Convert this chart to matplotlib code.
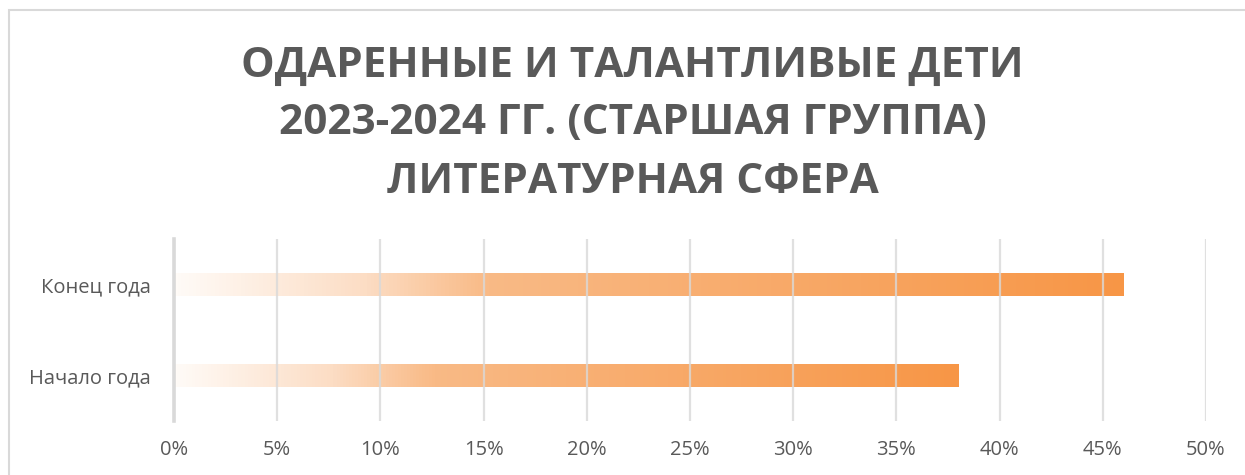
import numpy as np
import matplotlib
matplotlib.use("Agg")
import matplotlib.pyplot as plt
from matplotlib.colors import LinearSegmentedColormap
from matplotlib.patches import Rectangle
from matplotlib.ticker import PercentFormatter

# Data
categories = ["Начало года", "Конец года"]
values = [38, 46]
x_ticks = [0, 5, 10, 15, 20, 25, 30, 35, 40, 45, 50]
title_lines = ["ОДАРЕННЫЕ И ТАЛАНТЛИВЫЕ ДЕТИ",
               "2023-2024 ГГ. (СТАРШАЯ ГРУППА)",
               "ЛИТЕРАТУРНАЯ СФЕРА"]

plt.rcParams['font.family'] = ['Open Sans', 'DejaVu Sans']
text_col = '#595959'
grid_col = '#D9D9D9'

# white -> orange gradient, like the Excel fill
grad = LinearSegmentedColormap.from_list('orange_grad', [
    (0.0, '#FFFBF7'), (0.2, '#FCDDC4'), (0.33, '#F9BA86'),
    (0.65, '#F8A968'), (1.0, '#F79646')])

fig = plt.figure(figsize=(12.45, 4.75), dpi=100)
ax = fig.add_axes([0.1398, 0.1137, 0.9687 - 0.1398, 0.4968 - 0.1137])

y = np.arange(len(categories))
bars = ax.barh(y, values, height=0.25, color='none', edgecolor='none', zorder=2)
g = np.linspace(0, 1, 256).reshape(1, -1)
for b in bars:
    x0, y0 = b.get_x(), b.get_y()
    im = ax.imshow(g, cmap=grad, aspect='auto', zorder=2,
                   extent=[x0, x0 + b.get_width(), y0, y0 + b.get_height()])
    im.set_clip_path(b)

ax.set_xlim(0, 50)
ax.set_ylim(-0.5, len(categories) - 0.5)
ax.set_xticks(x_ticks)
ax.xaxis.set_major_formatter(PercentFormatter(decimals=0))
ax.set_yticks(y)
ax.set_yticklabels(categories)
ax.tick_params(length=0, labelsize=14.5, labelcolor=text_col)
ax.tick_params(axis='x', pad=14)
ax.tick_params(axis='y', pad=17)

ax.grid(axis='x', color=grid_col, linewidth=1.6, alpha=0.8, zorder=3)
ax.set_axisbelow(False)
for s in ['top', 'right', 'bottom']:
    ax.spines[s].set_visible(False)
ax.spines['left'].set_color(grid_col)
ax.spines['left'].set_linewidth(2.6)

# title, one line each
baselines = [77, 134, 193]
for line, yb in zip(title_lines, baselines):
    fig.text(0.508, 1 - yb / 475, line, ha='center', va='baseline',
             fontsize=30.4, fontweight='bold', color=text_col)

# chart border (clipped on the right and bottom)
fig.patches.append(Rectangle((8.5 / 1245, -0.1), 1.2, 1 - 10 / 475 + 0.1,
                             transform=fig.transFigure, fill=False,
                             edgecolor=grid_col, linewidth=1.5))

fig.savefig('out.png', dpi=100)
